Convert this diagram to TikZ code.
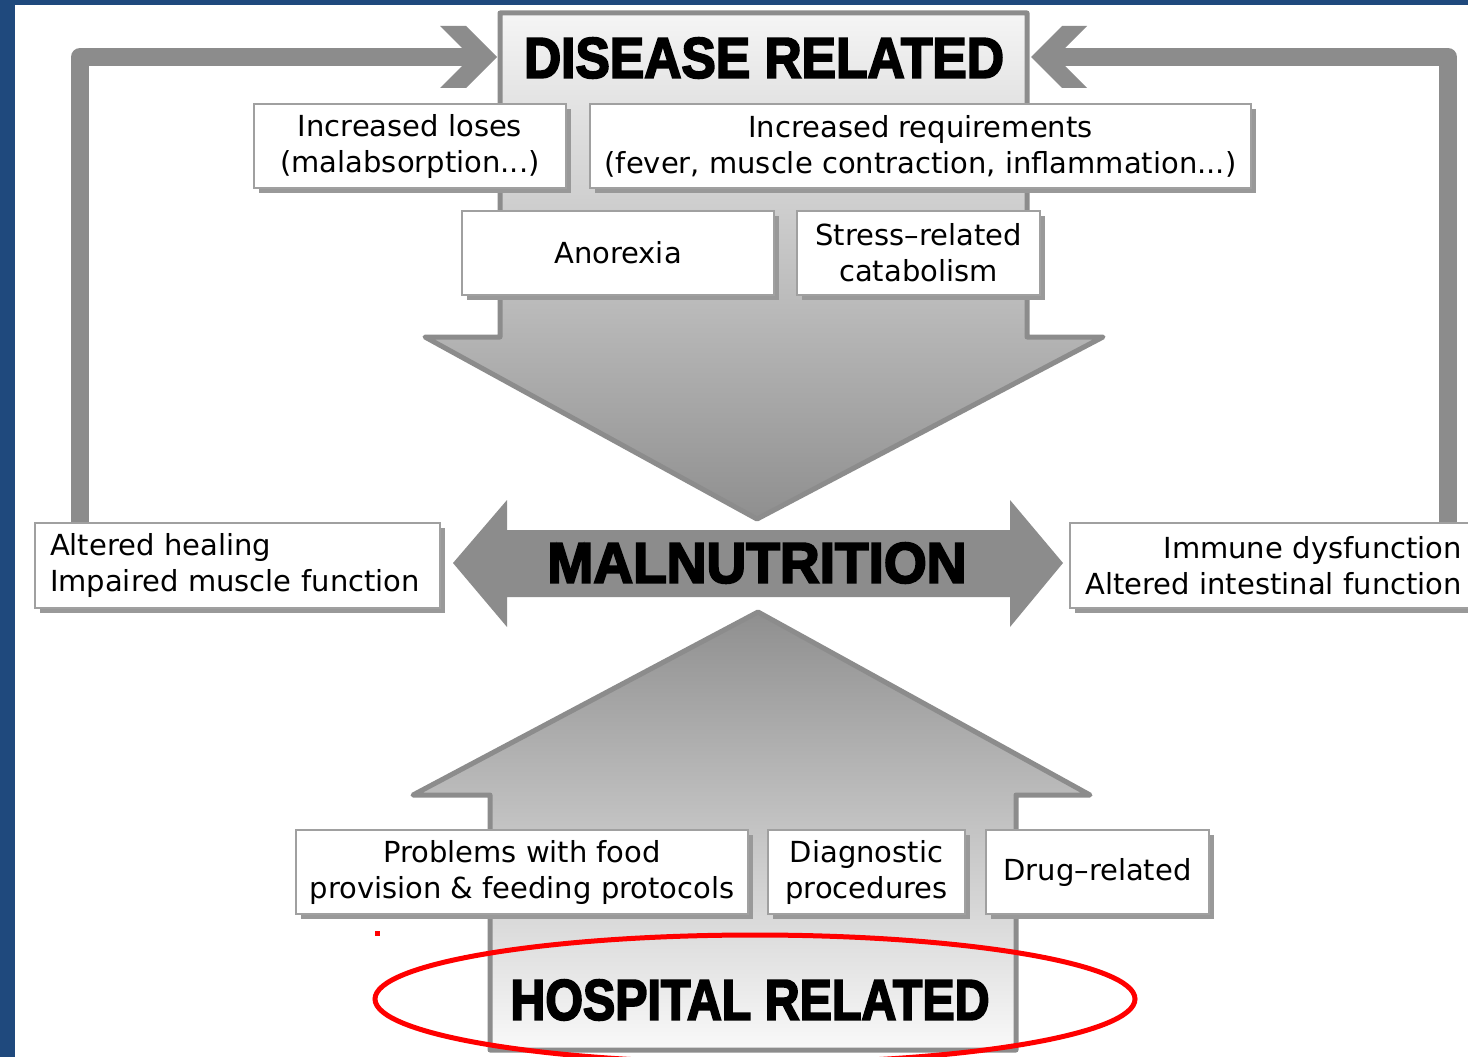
\documentclass[tikz,border=0pt]{standalone}
\usepackage{fontspec}
\setmainfont{DejaVu Sans}
\newfontfamily\headfont{Liberation Sans}[BoldFeatures={FakeBold=3.5}]
\usetikzlibrary{shadows}
\definecolor{frameblue}{HTML}{1F497D}
\definecolor{arrowgray}{HTML}{8C8C8C}
\definecolor{deepgray}{HTML}{8F8F8F}
\definecolor{palegray}{HTML}{F5F5F5}
\definecolor{boxline}{HTML}{A0A0A0}
\definecolor{shadowgray}{HTML}{999999}
\newcommand{\headtext}[3]{\resizebox{#1}{#2}{\headfont\bfseries #3}}
\begin{document}
\begin{tikzpicture}[x=1pt,y=-1pt,
  infobox/.style={draw=boxline, line width=1.5pt, fill=white, inner sep=0pt,
    align=center, font=\fontsize{29}{36}\selectfont,
    drop shadow={shadow xshift=5pt, shadow yshift=-5pt, fill=shadowgray, opacity=1, draw=none}},
  heading/.style={inner sep=0pt, text=black},
  loopline/.style={arrowgray, line width=18pt, line join=round},
  chevron/.style={fill=arrowgray},
  bigarrow/.style={draw=arrowgray, line width=5pt, line join=round}]
\useasboundingbox (0,0) rectangle (1468,1057);
% frame
\fill[frameblue] (0,0) rectangle (1468,1057);
\fill[white] (15,5) rectangle (1468,1057);

% feedback loop corners and ends
\coordinate (lcorner) at (80,57);
\coordinate (lend) at (472,57);
\coordinate (rcorner) at (1448,57);
\coordinate (rend) at (1056,57);

% disease related arrow (downwards)
\path[bigarrow, top color=palegray, bottom color=deepgray]
  (500,13) -- (1027,13) -- (1027,337) -- (1103,337) -- (757,519)
  -- (425,337) -- (500,337) -- cycle;

% hospital related arrow (upwards)
\path[bigarrow, top color=deepgray, middle color=gray!62, bottom color=palegray!60!white]
  (758,612) -- (1090,795) -- (1016,795) -- (1016,1050) -- (490,1050)
  -- (490,795) -- (413,795) -- cycle;

% malnutrition double arrow
\fill[arrowgray] (453,563) -- (507,500) -- (507,530) -- (1010,530) -- (1010,500)
  -- (1063,563) -- (1010,627) -- (1010,597) -- (507,597) -- (507,627) -- cycle;

% headings
\node[heading] (disease) at (764,58) {\headtext{480pt}{40pt}{DISEASE RELATED}};
\node[heading] (malnut) at (757,563) {\headtext{419pt}{40pt}{MALNUTRITION}};
\node[heading] (hospital) at (750,1000) {\headtext{479pt}{40pt}{HOSPITAL RELATED}};

% consequence boxes
\node[infobox, minimum height=85pt, text width=375pt, inner xsep=15pt, align=left]
  (alt) at (237.5,565.5) {Altered healing\\Impaired muscle function};
\node[infobox, minimum height=85pt, text width=380pt, inner xsep=12pt, align=right]
  (imm) at (1272,565.5) {Immune dysfunction\\Altered intestinal function};

% feedback loops
\draw[loopline] (alt.north -| lcorner) -- (lcorner) -- (lend);
\fill[chevron] (440,26) -- (466,26) -- (497,57) -- (466,88) -- (440,88) -- (471,57) -- cycle;
\draw[loopline] (imm.north -| rcorner) -- (rcorner) -- (rend);
\fill[chevron] (1087,26) -- (1062,26) -- (1031,57) -- (1062,88) -- (1087,88) -- (1056,57) -- cycle;

% disease related causes
\node[infobox, minimum width=312pt, minimum height=84pt] (loses) at (410,146)
  {Increased loses\\(malabsorption...)};
\node[infobox, minimum width=661pt, minimum height=84pt] (req) at (920.5,146)
  {Increased requirements\\(fever, muscle contraction, inflammation...)};
\node[infobox, minimum width=312pt, minimum height=84pt] (anorexia) at (618,253)
  {Anorexia};
\node[infobox, minimum width=243pt, minimum height=84pt] (stress) at (918.5,253)
  {Stress–related\\catabolism};

% hospital related causes
\node[infobox, minimum width=452pt, minimum height=84pt] (food) at (522,872)
  {Problems with food\\provision \& feeding protocols};
\node[infobox, minimum width=197pt, minimum height=84pt] (diag) at (866.5,872)
  {Diagnostic\\procedures};
\node[infobox, minimum width=223pt, minimum height=84pt] (drug) at (1097.5,872)
  {Drug–related};

% highlight
\draw[red, line width=5pt] (hospital.center) ++(5,-1) ellipse [x radius=380, y radius=64];
\fill[red] (375,931) rectangle (380,936);
\end{tikzpicture}
\end{document}
